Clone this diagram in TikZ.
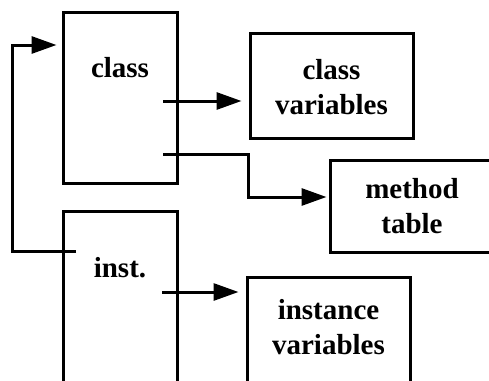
\documentclass[tikz,border=0pt]{standalone}
\usepackage{fontspec}
\setmainfont{Liberation Serif}
\usetikzlibrary{arrows.meta}
\tikzset{
  x=1pt, y=-1pt,
  box/.style={draw, line width=3pt, inner sep=0pt},
  lbl/.style={font=\fontsize{29}{35}\selectfont\bfseries, align=center, inner sep=0pt},
  conn/.style={line width=3pt, -{Triangle[length=25pt,width=17pt]}},
}
\begin{document}
\begin{tikzpicture}
\useasboundingbox (0,0) rectangle (489,380);
\clip (0,0) rectangle (489,380);
% boxes
\node[box, minimum width=114pt, minimum height=171pt] (class) at (120,97.5) {};
\node[box, minimum width=114pt, minimum height=200pt] (inst) at (120,311) {};
\node[box, minimum width=163pt, minimum height=105pt] (cvars) at (331.5,85.5) {};
\node[box, minimum width=164pt, minimum height=92pt] (mtab) at (412,206) {};
\node[box, minimum width=163pt, minimum height=110pt] (ivars) at (328.5,332) {};
% labels
\node[lbl] (classlbl) at (120,68) {class};
\node[lbl] (instlbl) at (120,268) {inst.};
\node[lbl] (cvarslbl) at (331.5,87) {class\\variables};
\node[lbl] (mtablbl) at (412,206) {method\\table};
\node[lbl] (ivarslbl) at (328.5,327) {instance\\variables};
% connector points
\coordinate (c1) at (163,101);
\coordinate (c2) at (163,154);
\coordinate (c2b) at (248,154);
\coordinate (c2c) at (248,197);
\coordinate (i1) at (76,251);
\coordinate (i1b) at (12,251);
\coordinate (i1c) at (12,45);
\coordinate (i2) at (162,292);
% connectors
\draw[conn, shorten >=7pt] (c1) -- (cvars.west |- c1);
\draw[conn, shorten >=2pt] (c2) -- (c2b) -- (c2c) -- (mtab.west |- c2c);
\draw[conn, shorten >=5pt] (i1) -- (i1b) -- (i1c) -- (class.west |- i1c);
\draw[conn, shorten >=7pt] (i2) -- (ivars.west |- i2);
\end{tikzpicture}
\end{document}
